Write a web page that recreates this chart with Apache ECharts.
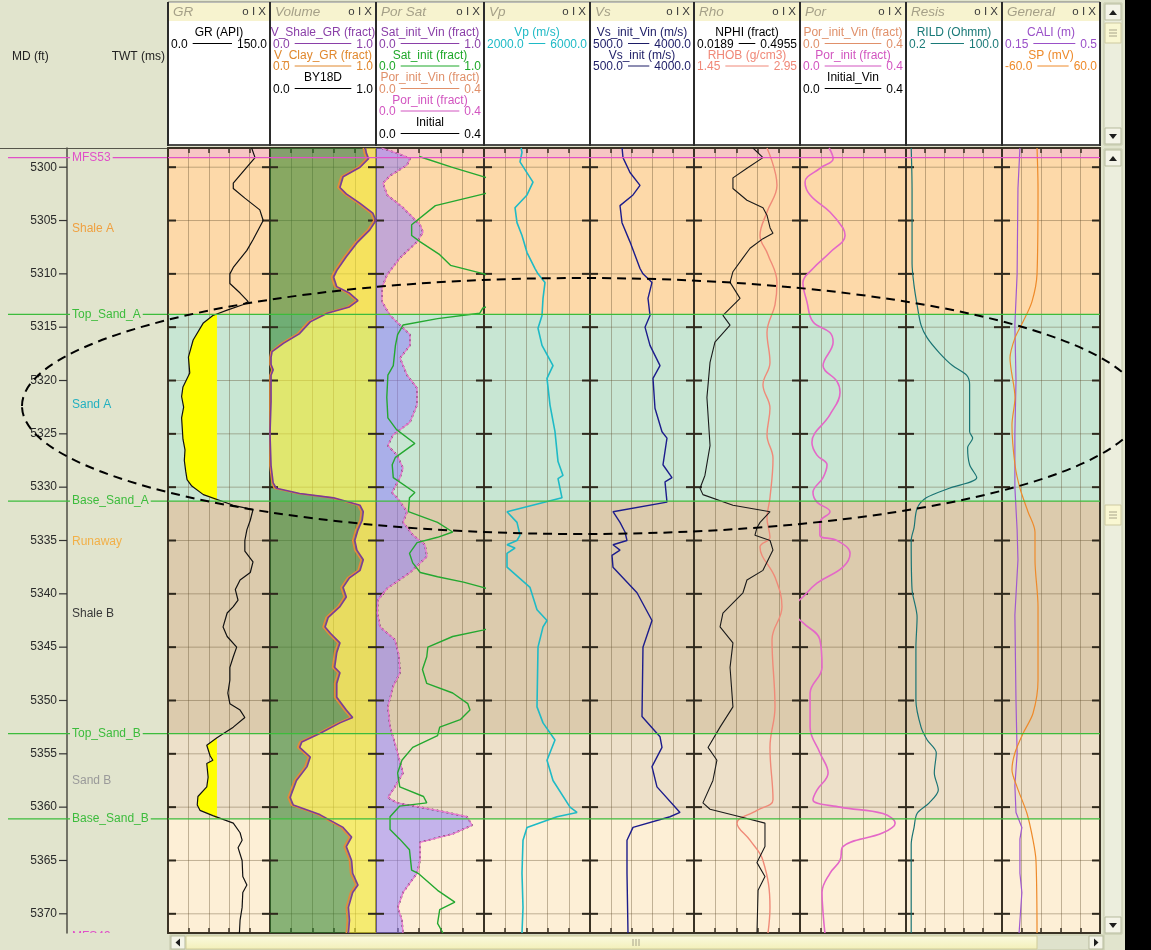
<!DOCTYPE html>
<html>
<head>
<meta charset="utf-8">
<title>Well log – Sand A / Sand B</title>
<script src="https://cdn.jsdelivr.net/npm/echarts@6/dist/echarts.min.js"></script>
<style>
  html, body { margin: 0; padding: 0; background: #e1e4cd; overflow: hidden; }
  #chart { width: 1151px; height: 950px; }
</style>
</head>
<body>
<div id="chart"></div>
<script>
// ---------------- depth range and ticks ----------------
const depthMin = 5298.2;
const depthMax = 5371.8;
const depthTicks = [5300, 5305, 5310, 5315, 5320, 5325, 5330, 5335, 5340, 5345, 5350, 5355, 5360, 5365, 5370];

// ---------------- zones (formation intervals) ----------------
const zoneTops   = [5298.2, 5299.1, 5313.8, 5331.3, 5353.1, 5361.1];
const zoneBases  = [5299.1, 5313.8, 5331.3, 5353.1, 5361.1, 5371.8];
const zoneLith   = ['shale', 'shale', 'sand', 'shale', 'sand', 'shale'];
const zoneColors = ['#f6c6c4', '#fdd9a9', '#c8e6d3', '#dccbad', '#ede0c9', '#fdefd6'];

const zoneLabelNames  = ['Shale A', 'Sand A', 'Runaway', 'Shale B', 'Sand B'];
const zoneLabelDepths = [5305.8, 5322.3, 5335.1, 5341.9, 5357.5];
const zoneLabelColors = ['#f0a040', '#22b0c0', '#f2b048', '#383838', '#9a9a9a'];

// ---------------- well tops ----------------
const topNames  = ['MFS53', 'Top_Sand_A', 'Base_Sand_A', 'Top_Sand_B', 'Base_Sand_B', 'MFS49'];
const topDepths = [5299.1, 5313.8, 5331.3, 5353.1, 5361.1, 5372.1];
const topColors = ['#e050c8', '#3cbc3c', '#3cbc3c', '#3cbc3c', '#3cbc3c', '#e050c8'];

// ---------------- curves: [depth (ft), value] ----------------
const grSandCutoff = 72;
const grCurve = [[5298.2,123],[5299.1,128],[5300,116],[5301.5,96],[5302,96],[5302.9,113],[5304,135],[5305,140],[5306.8,125],[5307.8,116],[5309.4,96],[5310,91],[5310.9,91],[5311.8,106],[5312.6,118],[5312.9,110],[5313.4,87],[5313.9,66],[5314.6,52],[5316.2,37],[5317.8,30],[5319.3,32],[5320.6,22],[5321.5,20],[5322.5,23],[5323.5,20],[5324.5,21],[5325.5,22],[5326.5,25],[5327.5,24],[5328.5,26],[5329.3,28],[5329.9,35],[5330.7,52],[5331.7,96],[5332.1,125],[5333.1,121],[5334,116],[5335,113],[5336,113],[5337,125],[5338,121],[5338.7,106],[5339.6,99],[5340.6,103],[5341.2,96],[5341.8,87],[5343.1,81],[5344,87],[5345,101],[5345.9,96],[5346.9,91],[5348.1,91],[5349.3,88],[5350.3,91],[5350.9,106],[5351.6,113],[5352.5,96],[5353.5,72],[5354.2,57],[5355.2,62],[5355.6,66],[5355.9,57],[5357.2,59],[5358.1,57],[5359,44],[5359.8,43],[5360.3,47],[5360.8,66],[5361.5,96],[5362.4,106],[5363.1,109],[5363.8,103],[5365,109],[5366.5,110],[5367.3,116],[5368,110],[5369.4,109],[5370.6,106],[5371.8,105]];

const vShaleCurve = [[5298.2,0.9],[5298.7,0.91],[5299.2,0.93],[5300,0.85],[5300.9,0.69],[5301.9,0.66],[5302.5,0.72],[5303.4,0.85],[5304.3,0.97],[5305,1.0],[5305.9,0.94],[5307.1,0.82],[5308.4,0.72],[5309.7,0.63],[5310.3,0.6],[5311.2,0.63],[5311.8,0.75],[5312.5,0.83],[5313.1,0.75],[5313.7,0.54],[5314.5,0.38],[5315.6,0.28],[5316.5,0.13],[5317.3,0.02],[5317.8,0.01],[5318.5,0.01],[5319,0.03],[5319.5,0.01],[5322,0.01],[5325,0.0],[5328,0.01],[5329.6,0.03],[5330.1,0.06],[5330.6,0.28],[5331,0.6],[5331.7,0.85],[5332.3,0.88],[5333.1,0.87],[5334,0.83],[5335,0.8],[5335.9,0.82],[5336.8,0.88],[5337.8,0.85],[5338.5,0.75],[5339.4,0.69],[5340.3,0.72],[5341.2,0.66],[5342.2,0.55],[5343.1,0.52],[5343.7,0.57],[5344.6,0.66],[5345.5,0.63],[5346.9,0.61],[5347.4,0.66],[5348.4,0.63],[5349.7,0.63],[5350.9,0.72],[5351.6,0.78],[5352.1,0.66],[5353.1,0.47],[5353.9,0.3],[5354.4,0.28],[5355.3,0.38],[5356.2,0.35],[5357.5,0.25],[5359.1,0.19],[5359.8,0.22],[5360.7,0.47],[5361.9,0.69],[5362.8,0.77],[5363.7,0.72],[5365,0.77],[5366.2,0.78],[5367.3,0.83],[5368,0.78],[5369.4,0.74],[5370.6,0.75],[5371.8,0.74]];

const vClayCurve = [[5298.2,0.88],[5298.7,0.89],[5299.2,0.91],[5300,0.83],[5300.9,0.67],[5301.9,0.64],[5302.5,0.7],[5303.4,0.83],[5304.3,0.95],[5305,0.98],[5305.9,0.92],[5307.1,0.8],[5308.4,0.7],[5309.7,0.61],[5310.3,0.58],[5311.2,0.61],[5311.8,0.73],[5312.5,0.81],[5313.1,0.73],[5313.7,0.52],[5314.5,0.36],[5315.6,0.26],[5316.5,0.11],[5317.3,0.01],[5317.8,0.0],[5318.5,0.0],[5319,0.02],[5319.5,0.0],[5322,0.0],[5325,0.0],[5328,0.0],[5329.6,0.02],[5330.1,0.04],[5330.6,0.26],[5331,0.58],[5331.7,0.83],[5332.3,0.86],[5333.1,0.85],[5334,0.81],[5335,0.78],[5335.9,0.8],[5336.8,0.86],[5337.8,0.83],[5338.5,0.73],[5339.4,0.67],[5340.3,0.7],[5341.2,0.64],[5342.2,0.53],[5343.1,0.5],[5343.7,0.55],[5344.6,0.64],[5345.5,0.61],[5346.9,0.59],[5347.4,0.64],[5348.4,0.61],[5349.7,0.61],[5350.9,0.7],[5351.6,0.76],[5352.1,0.64],[5353.1,0.45],[5353.9,0.28],[5354.4,0.26],[5355.3,0.36],[5356.2,0.33],[5357.5,0.23],[5359.1,0.17],[5359.8,0.2],[5360.7,0.45],[5361.9,0.67],[5362.8,0.75],[5363.7,0.7],[5365,0.75],[5366.2,0.76],[5367.3,0.81],[5368,0.76],[5369.4,0.72],[5370.6,0.73],[5371.8,0.72]];

const satInitCurve = [[5299.0,0.40],[5300.0,0.70],[5300.9,1.0],[5301.5,1.15],[5302.2,1.1],[5302.5,1.0],[5303.6,0.55],[5305.4,0.33],[5306.4,0.33],[5307,0.41],[5308.2,0.59],[5309.2,0.69],[5310,1.0],[5311,1.2],[5312.5,1.2],[5313.2,0.99],[5313.7,0.96],[5314.2,0.57],[5314.8,0.25],[5315.7,0.2],[5316.7,0.18],[5318.6,0.16],[5319.5,0.11],[5321.6,0.1],[5323.5,0.11],[5324.6,0.19],[5325.9,0.36],[5327.2,0.18],[5327.9,0.15],[5329.1,0.16],[5330.5,0.36],[5331,0.31],[5332.3,0.3],[5333.3,0.57],[5334.2,0.71],[5334.7,0.57],[5335.2,0.38],[5336.2,0.31],[5337.1,0.34],[5338,0.41],[5338.4,0.57],[5338.9,0.81],[5339.4,0.99],[5340,1.2],[5342.8,1.2],[5343.4,0.99],[5344,0.71],[5345,0.48],[5345.9,0.47],[5347.1,0.43],[5348.4,0.47],[5349.3,0.71],[5350.3,0.85],[5350.9,0.87],[5351.8,0.78],[5352.5,0.59],[5353.3,0.57],[5354.4,0.34],[5355.6,0.24],[5356.8,0.2],[5358.1,0.22],[5359,0.44],[5359.6,0.47],[5359.9,0.22],[5360.9,0.13],[5362.1,0.13],[5363,0.22],[5364,0.31],[5365.9,0.33],[5366.2,0.39],[5367.8,0.57],[5368.9,0.73],[5369.6,0.59],[5370.9,0.57],[5371.8,0.62]];

const porInitSatCurve = [[5298.2,0.02],[5298.8,0.09],[5299.2,0.126],[5299.8,0.115],[5300.8,0.052],[5301.5,0.026],[5302.6,0.041],[5303.8,0.1],[5305.4,0.163],[5306.1,0.174],[5307,0.152],[5308.5,0.089],[5310.1,0.041],[5311.3,0.022],[5312.6,0.022],[5313.9,0.052],[5314.8,0.089],[5315.7,0.126],[5316.7,0.126],[5317.9,0.089],[5319.5,0.115],[5320.7,0.152],[5322.3,0.152],[5323.9,0.126],[5325.1,0.063],[5326.1,0.044],[5327,0.078],[5328.2,0.1],[5329.1,0.089],[5330.5,0.059],[5331,0.078],[5332.3,0.115],[5333.3,0.1],[5334.5,0.137],[5335.4,0.181],[5336.5,0.189],[5338,0.126],[5339.5,0.041],[5340.6,0.007],[5341.8,0.005],[5343.1,0.015],[5344.3,0.07],[5345.8,0.085],[5347.4,0.089],[5348.7,0.063],[5350.6,0.044],[5352.5,0.052],[5354,0.07],[5356.8,0.1],[5358.1,0.07],[5359.1,0.044],[5359.6,0.078],[5360.3,0.226],[5360.9,0.337],[5361.7,0.356],[5362.5,0.285],[5363.3,0.163],[5365,0.163],[5366.2,0.152],[5368,0.1],[5369.4,0.081],[5370.6,0.096],[5371.8,0.1]];

const vpCurve = [[5298.2,3400],[5298.6,3434],[5299.5,3358],[5301.4,3849],[5302.6,3623],[5303.8,3170],[5305.2,3245],[5306.4,3434],[5308,3623],[5309.5,3925],[5310,4038],[5310.8,4302],[5312.3,4227],[5313.9,4189],[5315.1,4038],[5316.7,4189],[5318.6,4604],[5319.8,4377],[5322.3,4491],[5324.8,4679],[5327.6,4793],[5328.9,4981],[5329.2,4793],[5331,4943],[5332.3,2868],[5333.3,3245],[5334.5,3358],[5335,3245],[5335.4,2868],[5335.7,3170],[5336.2,2868],[5337.5,2868],[5339.4,3736],[5341.5,4000],[5342.5,4377],[5343.1,4227],[5345,4038],[5350.6,4000],[5352.1,4227],[5353.7,4679],[5355.6,4377],[5357.5,4604],[5360,5245],[5360.5,5510],[5360.9,4755],[5361.9,3623],[5363.1,3472],[5366.2,3434],[5369.4,3472],[5371.8,3434]];

const vsCurve = [[5298.2,1580],[5299.1,1610],[5300.5,1846],[5301.7,2183],[5302.6,1947],[5303.6,1510],[5305.2,1577],[5307,1846],[5309.5,2183],[5310,2283],[5310.8,2586],[5312.3,2452],[5313.9,2519],[5315,2351],[5316.7,2519],[5318.6,2856],[5319.8,2620],[5322.6,2687],[5324.8,2923],[5325.4,3091],[5327.9,2956],[5329.1,3259],[5329.5,3024],[5331.4,3091],[5332.3,1274],[5333.3,1510],[5334.2,1678],[5335,1745],[5335.4,1274],[5335.9,1510],[5336.4,1240],[5337.5,1274],[5339.9,2082],[5342.5,2586],[5345,2283],[5351.5,2250],[5353.4,2856],[5354.4,2923],[5356.2,2586],[5358.1,2754],[5360.5,3529],[5360.9,3192],[5361.9,1947],[5363.1,1745],[5366.2,1745],[5371.8,1779]];

const nphiCurve = [[5298.2,0.284],[5299.1,0.329],[5300.1,0.257],[5301,0.194],[5302,0.194],[5303.1,0.257],[5303.8,0.329],[5304.5,0.347],[5305.7,0.361],[5306.2,0.374],[5306.7,0.329],[5307.6,0.271],[5308.5,0.239],[5309.8,0.194],[5310.8,0.181],[5312.3,0.226],[5313.9,0.149],[5314.8,0.181],[5316.4,0.113],[5318.3,0.091],[5321.6,0.077],[5326.1,0.091],[5328.9,0.068],[5330.1,0.046],[5330.7,0.059],[5331.7,0.194],[5332.3,0.361],[5333.3,0.316],[5333.8,0.302],[5334.5,0.293],[5335,0.361],[5335.9,0.374],[5337.8,0.329],[5338.7,0.257],[5339.9,0.239],[5341.8,0.149],[5343.1,0.136],[5344.6,0.194],[5346.9,0.181],[5350.6,0.194],[5352.5,0.136],[5354.4,0.082],[5355.6,0.122],[5357.5,0.104],[5359.6,0.059],[5360.2,0.091],[5360.9,0.226],[5361.5,0.338],[5363.7,0.338],[5365.2,0.302],[5366.5,0.338],[5367.8,0.307],[5371.8,0.302]];

const rhobCurve = [[5298.2,2.483],[5301.7,2.624],[5304.2,2.483],[5306.4,2.384],[5308.2,2.497],[5310.8,2.624],[5312.9,2.596],[5315.5,2.483],[5318.3,2.525],[5320.4,2.426],[5322.6,2.525],[5325.1,2.483],[5327.3,2.568],[5331,2.525],[5332.9,2.483],[5334.7,2.525],[5335.6,2.384],[5338.5,2.6],[5341.2,2.695],[5344.3,2.554],[5350.6,2.596],[5354.4,2.525],[5359.3,2.568],[5360.3,2.341],[5361.5,2.058],[5363.1,2.242],[5365,2.426],[5369.4,2.525],[5371.8,2.497]];

const porInitCurve = [[5298.2,0.11],[5299.2,0.125],[5300.1,0.075],[5301.4,0.019],[5302.6,0.038],[5304.2,0.113],[5305.7,0.162],[5306.4,0.17],[5308,0.113],[5309.5,0.049],[5310.8,0.011],[5312.6,0.026],[5314.5,0.049],[5315.5,0.113],[5316.4,0.125],[5318.6,0.087],[5320.1,0.14],[5321.1,0.151],[5323.2,0.113],[5325.8,0.045],[5327,0.064],[5327.9,0.102],[5329.1,0.087],[5330.5,0.049],[5331.4,0.064],[5332.3,0.113],[5333.3,0.075],[5334.5,0.075],[5335,0.14],[5336.2,0.189],[5337.5,0.162],[5339,0.064],[5340.3,0.011],[5340.9,-0.01],[5342.1,-0.01],[5342.7,0.011],[5344.3,0.075],[5346.9,0.083],[5349.3,0.038],[5352.5,0.038],[5354.9,0.075],[5356.8,0.106],[5358.4,0.064],[5359.3,0.049],[5360,0.151],[5360.6,0.313],[5361.5,0.359],[5362.4,0.313],[5363.7,0.162],[5365,0.151],[5366.2,0.113],[5368,0.083],[5369.9,0.087],[5371.8,0.094]];

const rildCurve = [[5298.2,0.28],[5302,0.296],[5309,0.296],[5311.1,0.337],[5312.9,0.41],[5314.8,0.53],[5316,0.79],[5317.4,1.73],[5318.6,4.05],[5319.5,10.1],[5320.4,12.3],[5324.8,12.3],[5325.4,15.0],[5326.3,10.8],[5327.9,12.3],[5329.1,19.5],[5330.1,3.3],[5331,0.74],[5332,0.41],[5333.8,0.337],[5335,0.28],[5339.6,0.296],[5342.2,0.41],[5345,0.38],[5350,0.38],[5352.5,0.53],[5353.7,0.79],[5354.9,1.42],[5356.8,1.25],[5358.4,1.62],[5359.6,0.9],[5360.6,0.41],[5361.9,0.337],[5363.5,0.28],[5371.8,0.28]];

const caliCurve = [[5298.2,0.214],[5302,0.207],[5310,0.204],[5314.8,0.196],[5320,0.2],[5325,0.196],[5330,0.196],[5334,0.204],[5336.8,0.207],[5342,0.196],[5350,0.2],[5355,0.204],[5358,0.196],[5360.5,0.2],[5361.9,0.221],[5363,0.214],[5366.2,0.214],[5368,0.221],[5371.8,0.211]];

const spCurve = [[5298.2,-17.1],[5302,-15.9],[5310,-17.1],[5312.6,-23.3],[5314.5,-34.3],[5316,-44.1],[5317.9,-50.2],[5321.6,-44.1],[5324.2,-47.8],[5327.9,-44.1],[5330.1,-38],[5332.3,-28.2],[5334.2,-19.6],[5336.8,-19.6],[5341.2,-15.9],[5348.1,-15.9],[5351.2,-22],[5353.1,-34.3],[5354.9,-44.1],[5356.5,-47.8],[5358.1,-41.6],[5360.6,-29.4],[5363.1,-22],[5365,-18.4],[5371.8,-17.1]];

// ---------------- track headers: [curve name, scale min, scale max, colour] ----------------
const trackTitles = ['GR', 'Volume', 'Por Sat', 'Vp', 'Vs', 'Rho', 'Por', 'Resis', 'General'];
const headerCurves = [
  [['GR (API)', '0.0', '150.0', '#000000']],
  [['V_Shale_GR (fract)', '0.0', '1.0', '#8a3fa8'], ['V_Clay_GR (fract)', '0.0', '1.0', '#e0882e'], ['BY18D', '0.0', '1.0', '#000000']],
  [['Sat_init_Vin (fract)', '0.0', '1.0', '#8a3fa8'], ['Sat_init (fract)', '0.0', '1.0', '#1fa82a'], ['Por_init_Vin (fract)', '0.0', '0.4', '#e0906a'], ['Por_init (fract)', '0.0', '0.4', '#d255c0'], ['Initial', '0.0', '0.4', '#000000']],
  [['Vp (m/s)', '2000.0', '6000.0', '#1ebac6']],
  [['Vs_init_Vin (m/s)', '500.0', '4000.0', '#1c1c66'], ['Vs_init (m/s)', '500.0', '4000.0', '#1c1c66']],
  [['NPHI (fract)', '0.0189', '0.4955', '#000000'], ['RHOB (g/cm3)', '1.45', '2.95', '#f08878']],
  [['Por_init_Vin (fract)', '0.0', '0.4', '#e0906a'], ['Por_init (fract)', '0.0', '0.4', '#d255c0'], ['Initial_Vin', '0.0', '0.4', '#000000']],
  [['RILD (Ohmm)', '0.2', '100.0', '#1a7a78']],
  [['CALI (m)', '0.15', '0.5', '#9a50c8'], ['SP (mV)', '-60.0', '60.0', '#ee8a2a']]
];

// ---------------- layout ----------------
const FONT = '"Liberation Sans", Arial, sans-serif';
const PANEL = '#e1e4cd';
const GRID_COLOR = 'rgba(95,75,45,0.38)';
const BORDER = '#3a3224';
const TOP = 148, BOTTOM = 17;
const trackLayout = [[168,102],[270,106],[376,108],[484,106],[590,104],[694,106],[800,106],[906,96],[1002,98]];

const grid = [], xAxis = [], yAxis = [], series = [];

function txt(s) {
  return Object.assign({ align: s.align || 'left', verticalAlign: 'middle', textAlign: s.align || 'left', textVerticalAlign: 'middle' }, s);
}

// depth panel
grid.push({ left: 0, top: TOP, width: 167, bottom: BOTTOM });
xAxis.push({ gridIndex: 0, type: 'value', min: 0, max: 1, position: 'top',
  axisLine: { show: true, onZero: false, lineStyle: { color: '#55554a', width: 1 } },
  axisTick: { show: false }, axisLabel: { show: false }, splitLine: { show: false }, z: 2 });
yAxis.push({ gridIndex: 0, type: 'value', inverse: true, min: depthMin, max: depthMax, position: 'left', offset: -67,
  axisLine: { show: true, onZero: false, lineStyle: { color: '#4e4e44', width: 1.5 } },
  axisTick: { show: false }, axisLabel: { show: false }, splitLine: { show: false }, z: 2 });

// depth ticks + labels
series.push({ type: 'custom', xAxisIndex: 0, yAxisIndex: 0, z: 3, silent: true, encode: { x: 0, y: 1 },
  data: depthTicks.map(d => [0, d]),
  renderItem(params, api) {
    const cs = params.coordSys;
    const y = api.coord([0, api.value(1)])[1];
    return { type: 'group', children: [
      { type: 'line', shape: { x1: cs.x + 59, y1: y, x2: cs.x + 67, y2: y }, style: { stroke: '#333', lineWidth: 1.2 } },
      { type: 'text', x: cs.x + 57, y: y, style: txt({ text: String(api.value(1)), font: '12px ' + FONT, fill: '#2a2a2a', align: 'right' }) }
    ] };
  } });

// zone names
series.push({ type: 'custom', xAxisIndex: 0, yAxisIndex: 0, z: 3, silent: true, encode: { x: 0, y: 1 },
  data: zoneLabelDepths.map((d, k) => [0, d, k]),
  renderItem(params, api) {
    const cs = params.coordSys;
    const k = api.value(2);
    const y = api.coord([0, api.value(1)])[1];
    return { type: 'text', x: cs.x + 72, y: y, style: txt({ text: zoneLabelNames[k], font: '12px ' + FONT, fill: zoneLabelColors[k] }) };
  } });

// well tops with names in the depth panel
series.push({ type: 'custom', xAxisIndex: 0, yAxisIndex: 0, z: 5, silent: true, clip: true, encode: { x: 0, y: 1 },
  data: topDepths.map((d, k) => [0, d, k]),
  renderItem(params, api) {
    const cs = params.coordSys;
    const k = api.value(2);
    const y = api.coord([0, api.value(1)])[1];
    return { type: 'group', children: [
      { type: 'line', shape: { x1: cs.x + 8, y1: y, x2: cs.x + cs.width, y2: y }, style: { stroke: topColors[k], lineWidth: 1.2 } },
      { type: 'text', x: cs.x + 70, y: y, style: txt({ text: topNames[k], font: '12px ' + FONT, fill: topColors[k], backgroundColor: PANEL, padding: [1, 2] }) }
    ] };
  } });

// tracks
const trackAxes = [];
trackLayout.forEach(([left, width], i) => {
  const g = i + 1;
  grid.push({ left, width, top: TOP, bottom: BOTTOM });
  const yl = yAxis.length;
  const yBase = { gridIndex: g, type: 'value', inverse: true, min: depthMin, max: depthMax,
    axisTick: { show: false }, axisLabel: { show: false }, splitLine: { show: false },
    axisLine: { show: true, onZero: false, lineStyle: { color: BORDER, width: 2 } }, z: 2 };
  yAxis.push(Object.assign({ position: 'left' }, yBase));
  yAxis.push(Object.assign({ position: 'right' }, yBase));
  const xg = xAxis.length;
  const xBase = { gridIndex: g, type: 'value', min: 0, max: 5, interval: 1, axisLabel: { show: false },
    axisLine: { show: true, onZero: false, lineStyle: { color: BORDER, width: 2 } },
    axisTick: { show: true, inside: true, length: 5, lineStyle: { color: BORDER, width: 1.5 } }, z: 2 };
  xAxis.push(Object.assign({ position: 'top', splitLine: { show: true, lineStyle: { color: GRID_COLOR, width: 1 } } }, xBase));
  xAxis.push(Object.assign({ position: 'bottom', splitLine: { show: false } }, xBase));
  trackAxes.push({ g, xg, yl });

  // zone colour bands
  series.push({ type: 'custom', xAxisIndex: xg, yAxisIndex: yl, z: 1, silent: true, clip: true, encode: { x: 0, y: [1, 2] },
    data: zoneTops.map((t, k) => [0, t, zoneBases[k], k]),
    renderItem(params, api) {
      const cs = params.coordSys;
      const y0 = api.coord([0, api.value(1)])[1];
      const y1 = api.coord([0, api.value(2)])[1];
      return { type: 'rect', shape: { x: cs.x, y: y0, width: cs.width, height: y1 - y0 }, style: { fill: zoneColors[api.value(3)] } };
    } });

  // horizontal depth grid
  series.push({ type: 'custom', xAxisIndex: xg, yAxisIndex: yl, z: 2, silent: true, encode: { x: 0, y: 1 },
    data: depthTicks.map(d => [0, d]),
    renderItem(params, api) {
      const cs = params.coordSys;
      const y = api.coord([0, api.value(1)])[1];
      return { type: 'line', shape: { x1: cs.x, y1: y, x2: cs.x + cs.width, y2: y }, style: { stroke: GRID_COLOR, lineWidth: 1 } };
    } });

  // depth ticks on both track edges
  series.push({ type: 'custom', xAxisIndex: xg, yAxisIndex: yl, z: 4, silent: true, encode: { x: 0, y: 1 },
    data: depthTicks.map(d => [0, d]),
    renderItem(params, api) {
      const cs = params.coordSys;
      const y = api.coord([0, api.value(1)])[1];
      return { type: 'group', children: [
        { type: 'line', shape: { x1: cs.x, y1: y, x2: cs.x + 8, y2: y }, style: { stroke: '#2e281c', lineWidth: 2 } },
        { type: 'line', shape: { x1: cs.x + cs.width - 8, y1: y, x2: cs.x + cs.width, y2: y }, style: { stroke: '#2e281c', lineWidth: 2 } }
      ] };
    } });

  // well tops across the track
  series.push({ type: 'custom', xAxisIndex: xg, yAxisIndex: yl, z: 5, silent: true, clip: true, encode: { x: 0, y: 1 },
    data: topDepths.map((d, k) => [0, d, k]),
    renderItem(params, api) {
      const cs = params.coordSys;
      const k = api.value(2);
      const y = api.coord([0, api.value(1)])[1];
      return { type: 'line', shape: { x1: cs.x, y1: y, x2: cs.x + cs.width, y2: y }, style: { stroke: topColors[k], lineWidth: 1.2 } };
    } });
});

function addCurveAxis(g, min, max, type) {
  xAxis.push({ gridIndex: g, type: type || 'value', min, max, show: false, position: 'top' });
  return xAxis.length - 1;
}
function lineSeries(name, curve, ti, xi, color, width, extra) {
  return Object.assign({ type: 'line', name, xAxisIndex: xi, yAxisIndex: trackAxes[ti].yl,
    data: curve.map(p => [p[1], p[0]]), symbol: 'none', showSymbol: false, clip: true, silent: true, z: 4,
    lineStyle: { color, width } }, extra || {});
}
function clampTo(v, lo, hi) { return Math.max(lo, Math.min(hi, v)); }
function bandFill(curve, ti, xi, lo, hi, baseVal, fill) {
  return { type: 'custom', xAxisIndex: xi, yAxisIndex: trackAxes[ti].yl, z: 3, silent: true, clip: true, encode: { x: 0, y: 1 },
    data: [[lo, depthMin]],
    renderItem(params, api) {
      const pts = curve.map(p => api.coord([clampTo(p[1], lo, hi), p[0]]));
      pts.push(api.coord([baseVal, curve[curve.length - 1][0]]));
      pts.push(api.coord([baseVal, curve[0][0]]));
      return { type: 'polygon', shape: { points: pts }, style: { fill } };
    } };
}
function interpAt(curve, d) {
  for (let k = 1; k < curve.length; k++) {
    if (curve[k][0] >= d) {
      const [d0, v0] = curve[k - 1], [d1, v1] = curve[k];
      return v0 + (v1 - v0) * (d - d0) / (d1 - d0);
    }
  }
  return curve[curve.length - 1][1];
}

// curve scales
const grAx    = addCurveAxis(1, 0, 150);
const volAx   = addCurveAxis(2, 0, 1);
const satAx   = addCurveAxis(3, 0, 1);
const porSAx  = addCurveAxis(3, 0, 0.4);
const vpAx    = addCurveAxis(4, 2000, 6000);
const vsAx    = addCurveAxis(5, 500, 4000);
const nphiAx  = addCurveAxis(6, 0.0189, 0.4955);
const rhobAx  = addCurveAxis(6, 1.45, 2.95);
const porAx   = addCurveAxis(7, 0, 0.4);
const rildAx  = addCurveAxis(8, 0.2, 100, 'log');
const caliAx  = addCurveAxis(9, 0.15, 0.5);
const spAx    = addCurveAxis(9, -60, 60);

// GR: yellow sand shading between the curve and the cutoff inside sand zones
const sandZones = zoneTops.map((t, k) => [0, t, zoneBases[k], k]).filter(z => zoneLith[z[3]] === 'sand');
series.push({ type: 'custom', xAxisIndex: grAx, yAxisIndex: trackAxes[0].yl, z: 3, silent: true, clip: true, encode: { x: 0, y: [1, 2] },
  data: sandZones,
  renderItem(params, api) {
    const top = api.value(1), base = api.value(2);
    const seg = [[top, interpAt(grCurve, top)]];
    grCurve.forEach(p => { if (p[0] > top && p[0] < base) seg.push(p); });
    seg.push([base, interpAt(grCurve, base)]);
    const pts = seg.map(p => api.coord([Math.min(p[1], grSandCutoff), p[0]]));
    pts.push(api.coord([grSandCutoff, base]));
    pts.push(api.coord([grSandCutoff, top]));
    return { type: 'polygon', shape: { points: pts }, style: { fill: '#ffff00' } };
  } });
series.push(lineSeries('GR', grCurve, 0, grAx, '#111111', 1.2));

// Volume: shale (green) / sand (yellow) split by V_Shale_GR
series.push(bandFill(vShaleCurve, 1, volAx, 0, 1, 0, 'rgba(40,128,40,0.55)'));
series.push(bandFill(vShaleCurve, 1, volAx, 0, 1, 1, 'rgba(240,232,45,0.6)'));
series.push(lineSeries('V_Clay_GR', vClayCurve, 1, volAx, '#e8883a', 1.6));
series.push(lineSeries('V_Shale_GR', vShaleCurve, 1, volAx, '#7c3c96', 1.6));

// Por Sat
series.push(bandFill(porInitSatCurve, 2, porSAx, 0, 0.4, 0, 'rgba(140,120,255,0.5)'));
series.push(lineSeries('Initial', porInitSatCurve, 2, porSAx, '#222222', 1.6, { lineStyle: { color: '#222222', width: 1.6, type: [2, 3] } }));
series.push(lineSeries('Por_init', porInitSatCurve, 2, porSAx, '#e878d0', 1.3));
series.push(lineSeries('Sat_init', satInitCurve, 2, satAx, '#24a830', 1.4));

// Vp, Vs
series.push(lineSeries('Vp', vpCurve, 3, vpAx, '#1ebac6', 1.6));
series.push(lineSeries('Vs_init', vsCurve, 4, vsAx, '#1c1c8c', 1.4));

// Rho
series.push(lineSeries('RHOB', rhobCurve, 5, rhobAx, '#f08a78', 1.4, { smooth: 0.4 }));
series.push(lineSeries('NPHI', nphiCurve, 5, nphiAx, '#1a1a1a', 1.1));

// Por
series.push(lineSeries('Por_init', porInitCurve, 6, porAx, '#e468c8', 1.6, { smooth: 0.4 }));

// Resis
series.push(lineSeries('RILD', rildCurve, 7, rildAx, '#1a7474', 1.2, { smooth: 0.3 }));

// General
series.push(lineSeries('CALI', caliCurve, 8, caliAx, '#a058d0', 1.2));
series.push(lineSeries('SP', spCurve, 8, spAx, '#ee8a2a', 1.2, { smooth: 0.3 }));

// ---------------- header, scroll bars, annotation ----------------
const measureCtx = document.createElement('canvas').getContext('2d');
function textWidth(s, font) { measureCtx.font = font; return measureCtx.measureText(s).width; }
const HFONT = '12px ' + FONT;

const graphic = [];
graphic.push({ type: 'text', x: 12, y: 57, style: txt({ text: 'MD (ft)', font: HFONT, fill: '#222' }) });
graphic.push({ type: 'text', x: 165, y: 57, style: txt({ text: 'TWT (ms)', font: HFONT, fill: '#222', align: 'right' }) });

trackLayout.forEach(([L, W], i) => {
  graphic.push({ type: 'rect', shape: { x: L, y: 2, width: W, height: 143 }, style: { fill: '#ffffff', stroke: '#7a7a70', lineWidth: 1 }, z: 1 });
  graphic.push({ type: 'rect', shape: { x: L + 1, y: 3, width: W - 2, height: 18 }, style: { fill: '#f7f3cf' }, z: 2 });
  graphic.push({ type: 'text', x: L + 5, y: 12, style: txt({ text: trackTitles[i], font: 'italic 13.5px ' + FONT, fill: '#a5a088' }), z: 3 });
  graphic.push({ type: 'text', x: L + W - 4, y: 12, style: txt({ text: 'o I X', font: '11.5px ' + FONT, fill: '#3a3a3a', align: 'right' }), z: 3 });
  headerCurves[i].forEach((c, j) => {
    const [name, lo, hi, color] = c;
    const yName = 33 + j * 22.5, yScale = 44.5 + j * 22.5;
    graphic.push({ type: 'text', x: L + W / 2, y: yName, style: txt({ text: name, font: HFONT, fill: color, align: 'center' }), z: 3 });
    graphic.push({ type: 'text', x: L + 3, y: yScale, style: txt({ text: lo, font: HFONT, fill: color }), z: 3 });
    graphic.push({ type: 'text', x: L + W - 3, y: yScale, style: txt({ text: hi, font: HFONT, fill: color, align: 'right' }), z: 3 });
    const x1 = L + 3 + textWidth(lo, HFONT) + 5, x2 = L + W - 3 - textWidth(hi, HFONT) - 5;
    graphic.push({ type: 'line', shape: { x1, y1: yScale - 1, x2, y2: yScale - 1 }, style: { stroke: color, lineWidth: 1 }, z: 3 });
  });
  graphic.push({ type: 'line', shape: { x1: L, y1: 2, x2: L, y2: 146 }, style: { stroke: '#2b2b2b', lineWidth: 2 }, z: 4 });
});
graphic.push({ type: 'line', shape: { x1: 1100, y1: 2, x2: 1100, y2: 146 }, style: { stroke: '#2b2b2b', lineWidth: 2 }, z: 4 });
graphic.push({ type: 'line', shape: { x1: 168, y1: 145, x2: 1100, y2: 145 }, style: { stroke: '#2b2b2b', lineWidth: 1.5 }, z: 4 });

function gripV(x, y) {
  return [0, 3, 6].map(o => ({ type: 'line', shape: { x1: x + 5, y1: y + o, x2: x + 13, y2: y + o }, style: { stroke: '#a8a48a', lineWidth: 1 }, z: 53 }));
}
function vScroll(x, y, h, thumbY, thumbH) {
  const w = 18;
  return [
    { type: 'rect', shape: { x, y, width: w, height: h }, style: { fill: '#eceedd', stroke: '#c3c7a9', lineWidth: 1 }, z: 50 },
    { type: 'rect', shape: { x: x + 1, y: y + 1, width: w - 2, height: 16 }, style: { fill: '#f4f4e8', stroke: '#b7bb9d' }, z: 51 },
    { type: 'polygon', shape: { points: [[x + 5, y + 12], [x + 13, y + 12], [x + 9, y + 7]] }, style: { fill: '#1e1e1e' }, z: 52 },
    { type: 'rect', shape: { x: x + 1, y: y + h - 17, width: w - 2, height: 16 }, style: { fill: '#f4f4e8', stroke: '#b7bb9d' }, z: 51 },
    { type: 'polygon', shape: { points: [[x + 5, y + h - 11], [x + 13, y + h - 11], [x + 9, y + h - 6]] }, style: { fill: '#1e1e1e' }, z: 52 },
    { type: 'rect', shape: { x: x + 1, y: thumbY, width: w - 2, height: thumbH }, style: { fill: '#f9f7d2', stroke: '#cdc9a0' }, z: 51 }
  ].concat(gripV(x, thumbY + thumbH / 2 - 3));
}
graphic.push(...vScroll(1104, 3, 142, 23, 20));
graphic.push(...vScroll(1104, 149, 785, 505, 20));

// horizontal scroll bar
graphic.push({ type: 'rect', shape: { x: 170, y: 935, width: 934, height: 15 }, style: { fill: '#dfe2cc', stroke: '#c3c7a9' }, z: 50 });
graphic.push({ type: 'rect', shape: { x: 171, y: 936, width: 14, height: 13 }, style: { fill: '#f4f4e8', stroke: '#b7bb9d' }, z: 51 });
graphic.push({ type: 'polygon', shape: { points: [[180, 938.5], [180, 946.5], [175.5, 942.5]] }, style: { fill: '#1e1e1e' }, z: 52 });
graphic.push({ type: 'rect', shape: { x: 186, y: 936, width: 851, height: 13 },
  style: { fill: new echarts.graphic.LinearGradient(0, 0, 0, 1, [{ offset: 0, color: '#fbfae0' }, { offset: 1, color: '#f2efb8' }]), stroke: '#d0cc98' }, z: 51 });
[0, 3, 6].forEach(o => graphic.push({ type: 'line', shape: { x1: 633 + o, y1: 939, x2: 633 + o, y2: 946 }, style: { stroke: '#a8a48a' }, z: 52 }));
graphic.push({ type: 'rect', shape: { x: 1089, y: 936, width: 14, height: 13 }, style: { fill: '#f4f4e8', stroke: '#b7bb9d' }, z: 51 });
graphic.push({ type: 'polygon', shape: { points: [[1094, 938.5], [1094, 946.5], [1098.5, 942.5]] }, style: { fill: '#1e1e1e' }, z: 52 });

// dashed ellipse around the Sand A interval
graphic.push({ type: 'ellipse', shape: { cx: 582, cy: 406, rx: 560, ry: 128 },
  style: { fill: 'none', stroke: '#000000', lineWidth: 2, lineDash: [9, 6] }, z: 100 });
// window edge
graphic.push({ type: 'rect', shape: { x: 1125, y: 0, width: 26, height: 950 }, style: { fill: '#000000' }, z: 101 });

const chart = echarts.init(document.getElementById('chart'), null, { renderer: 'canvas' });
chart.setOption({
  animation: false,
  backgroundColor: PANEL,
  grid, xAxis, yAxis, series, graphic
});
</script>
</body>
</html>
